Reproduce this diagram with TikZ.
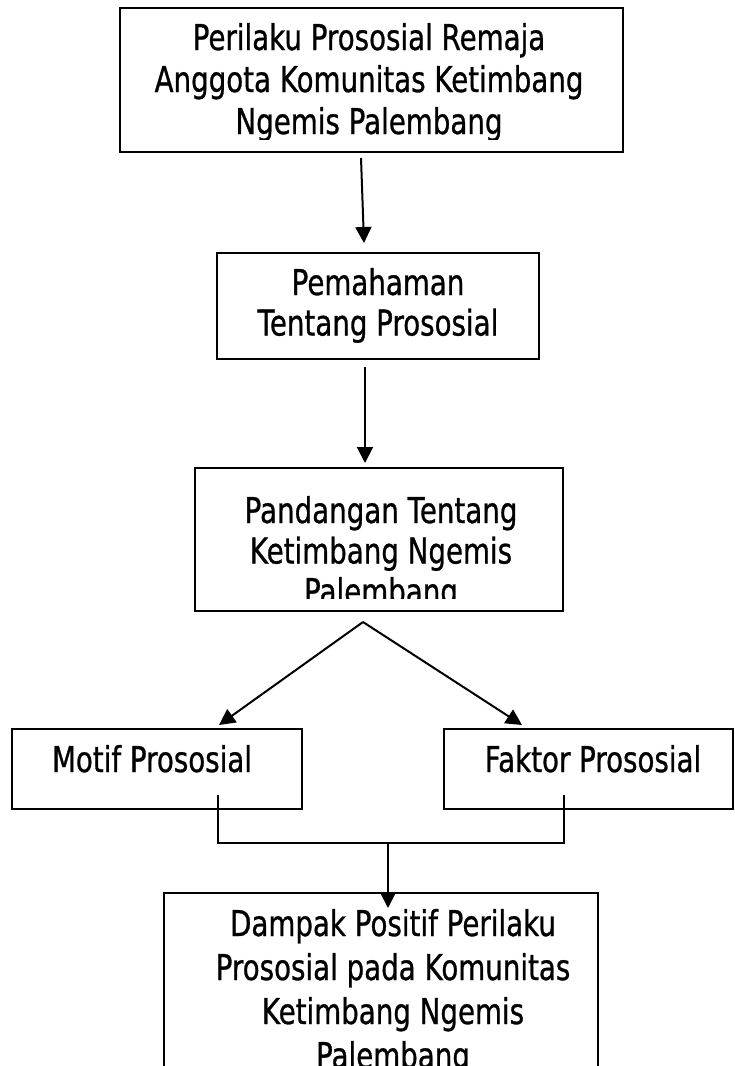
\documentclass[tikz,border=0pt]{standalone}
\usepackage{fontspec}
\setmainfont{DejaVu Sans}[FakeStretch=0.78,FakeBold=0.8]
\usetikzlibrary{arrows.meta,calc}
\begin{document}
\begin{tikzpicture}[x=1pt,y=-1pt,
  boxst/.style={draw, line width=1.8pt, inner sep=0pt, rectangle},
  txt/.style={anchor=base, inner sep=0pt, font=\fontsize{35.5}{40.5}\selectfont},
  wide/.style={font=\fontsize{35.5}{42}\selectfont},
  wider/.style={font=\fontsize{35.5}{44}\selectfont},
  conn/.style={line width=2pt},
  arr/.style={conn, -{Triangle[length=16pt,width=16pt]}}]
\useasboundingbox (0,0) rectangle (735,1066);
\fill[white] (0,0) rectangle (735,1066);
% boxes
\node[boxst, minimum width=503pt, minimum height=144pt] (b1) at (371.5,80) {};
\node[boxst, minimum width=322pt, minimum height=106pt] (b2) at (378,306) {};
\node[boxst, minimum width=368pt, minimum height=143pt] (b3) at (379,539.5) {};
\node[boxst, minimum width=290pt, minimum height=80pt] (b4) at (157,769) {};
\node[boxst, minimum width=289pt, minimum height=80pt] (b5) at (588.5,769) {};
\node[boxst, minimum width=434pt, minimum height=207pt] (b6) at (381,996.5) {};
% texts
\begin{scope}
\clip ([yshift=144pt]b1.south west) rectangle ([yshift=13pt]b1.south east);
\node[txt, wide] (t1) at (369,50) {\begin{tabular}[t]{@{}c@{}}Perilaku Prososial Remaja\\Anggota Komunitas Ketimbang\\Ngemis Palembang\end{tabular}};
\end{scope}
\node[txt] (t2) at (378,295) {\begin{tabular}[t]{@{}c@{}}Pemahaman\\Tentang Prososial\end{tabular}};
\begin{scope}
\clip ([yshift=143pt]b3.south west) rectangle ([yshift=13pt]b3.south east);
\node[txt] (t3) at (381,523) {\begin{tabular}[t]{@{}c@{}}Pandangan Tentang\\Ketimbang Ngemis\\Palembang\end{tabular}};
\end{scope}
\node[txt] (t4) at (152,772) {Motif Prososial};
\node[txt] (t5) at (593,772) {Faktor Prososial};
\node[txt, wider] (t6) at (393,936) {\begin{tabular}[t]{@{}c@{}}Dampak Positif Perilaku\\Prososial pada Komunitas\\Ketimbang Ngemis\\Palembang\end{tabular}};
% connector points
\coordinate (p1s) at (361,158);
\coordinate (p1e) at (364,243);
\coordinate (p2s) at (365,367);
\coordinate (p2e) at (365,463);
\coordinate (apex) at (363,622);
\coordinate (lt) at (219,725);
\coordinate (rt) at (522,725);
\coordinate (m4) at (218,795);
\coordinate (m5) at (564,795);
\coordinate (jn) at (388,843);
\coordinate (p6e) at (388,908);
% connectors
\draw[arr] (p1s) -- (p1e);
\draw[arr] (p2s) -- (p2e);
\draw[arr] (apex) -- (lt);
\draw[arr] (apex) -- (rt);
\draw[conn] (m4) |- (jn) -| (m5);
\draw[arr] (jn) -- (p6e);
\end{tikzpicture}
\end{document}
